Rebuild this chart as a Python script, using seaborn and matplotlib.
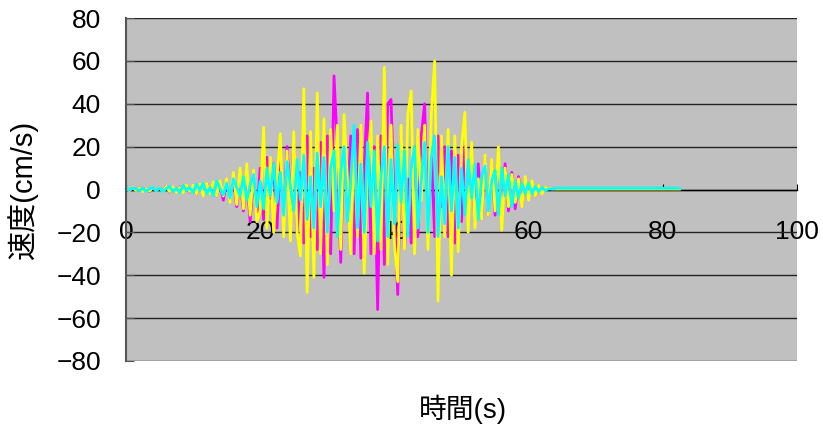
import numpy as np
import pandas as pd
import seaborn as sns
import matplotlib.pyplot as plt

# time axis, 0.5 s steps up to 63.5 s, then the quiet tail
t_main = np.arange(0, 64, 0.5)
t_tail = [64, 70, 76, 82.5]

# velocity records (cm/s)
mag = [0.3, -0.5, 0.5, -0.3, 0.8, -0.5, 0.5, -1, 0.8, -0.5,
       1, -0.8, 1.5, -1.2, 1, -1.5, 1.2, -1, 1.5, -1.2,
       1.5, -2, 2, -2.5, 3, -2, 2.5, -3, 3, -5,
       4, -5, 6, -8, 5, -10, 8, -15, 6, -12,
       10, -14, 15, -4, 12, -18, 16, -15, 20, -6,
       22, -20, 8, -25, 25, -22, 10, -28, 22, -41,
       25, -30, 53, 20, -34, 28, -8, 25, -30, 28,
       -32, 10, 45, -30, 20, -56, 25, -35, 40, 42,
       -10, -49, 25, -28, 5, -25, 20, -22, 25, 40,
       -20, 18, -22, 25, -8, 20, -22, 18, -25, 16,
       -15, 20, -5, 14, -15, 12, -14, 15, -12, 13,
       -12, 14, -13, 12, -10, 8, -9, 6, -7, 5,
       -4, 3, -3, 2, -1.5, 1, 0.5, 0.3]
yel = [0.5, -0.5, 1, -0.5, 0.8, -1, 0.5, -0.8, 1, -0.5,
       1, -1, 1.5, -1, 1.2, -1.5, 1, -1.5, 2, -1,
       2, -2, 2.5, -3, 3, -2, 3.5, -3, 4, -3,
       5, -6, 8, -7, 10, -9, 12, -12, 9, -15,
       -10, 29, -18, 15, -20, 5, 26, -22, 18, -24,
       27, -20, -31, 47, -48, 27, -41, 45, -30, 33,
       -35, 28, -10, 30, -28, 35, 5, -30, 25, -22,
       30, -39, 10, 32, -30, 25, -28, 57, -35, 30,
       -25, -43, 30, -28, 35, 46, -30, 28, -5, 30,
       -28, 35, 60, -52, 25, -22, 28, -40, 25, -29,
       20, 36, -20, 22, -18, 5, -14, 16, -12, 14,
       -10, 20, -19, 10, -8, 7, -6, 5, -8, 6,
       -5, 4, -3, 2, -2, 1, 0.5, 0.3]
cya = [0.5, -0.3, 0.8, 0.2, -0.5, 0.6, -0.8, 0.3, 1, -0.6,
       0.8, -1, 0.4, 1.5, -1, 0.5, -1.5, 2, -0.5, 1,
       -1.5, 2.5, -0.5, 3, -2, 1, -3, 4, 0.5, -2.5,
       3, -4, 5, 1, -3, 6, -5, 2, 7, -8,
       4, -9, 10, -3, 12, -6, 8, -12, 13, 2,
       -10, 14, -5, 16, -14, 6, -18, 17, -8, 15,
       -20, 10, 18, -22, 8, 20, -15, 5, 30, -18,
       12, -20, 22, -8, 18, -24, 6, 20, -22, 14,
       -16, 21, -6, 18, -22, 10, 20, -18, 4, 22,
       -20, 15, 25, -22, 6, -16, 20, -10, 15, -18,
       10, -12, 14, -4, 12, -14, 6, 11, -10, 4,
       9, -12, 10, -3, 7, -8, 4, -4, 3, -2,
       3, -2, 1.5, -1, 1, -0.5, 0.3, 0.2]
mag_tail = [0.4, 0.4, 0.4, 0.4]
yel_tail = [0.2, 0.2, 0.2, 0.2]
cya_tail = [0.6, 0.6, 0.6, 0.6]

t_all = list(t_main) + t_tail
d = pd.concat([
    pd.DataFrame({'t': t_all, 'v': mag + mag_tail, 'rec': 'M'}),
    pd.DataFrame({'t': t_all, 'v': yel + yel_tail, 'rec': 'Y'}),
    pd.DataFrame({'t': t_all, 'v': cya + cya_tail, 'rec': 'C'}),
])

plt.rcParams['font.family'] = ['Liberation Sans', 'Noto Sans CJK JP', 'DejaVu Sans']

fig = plt.figure(figsize=(8.23, 4.25), dpi=100)
ax = fig.add_axes([0.1531, 0.1506, 0.8153, 0.807])
ax.set_facecolor('#C0C0C0')

sns.lineplot(data=d, x='t', y='v', hue='rec', hue_order=['M', 'Y', 'C'],
             palette={'M': '#FF00FF', 'Y': '#FFFF00', 'C': '#00FFFF'},
             estimator=None, sort=False, linewidth=2, legend=False, ax=ax)

ax.set_xlim(0, 100)
ax.set_ylim(-80, 80)
ax.set_xticks(range(0, 101, 20))
ax.set_yticks(range(-80, 81, 20))
ax.set_axisbelow(True)
ax.yaxis.grid(True, color='#222222', linewidth=1)
ax.xaxis.grid(False)

for s in ['top', 'right']:
    ax.spines[s].set_visible(False)
ax.spines['bottom'].set_position(('data', 0))
ax.spines['bottom'].set_color('black')
ax.spines['bottom'].set_linewidth(1)
ax.spines['bottom'].set_zorder(1)
ax.spines['left'].set_color('#555555')
ax.spines['left'].set_linewidth(1.5)

ax.tick_params(axis='x', direction='in', length=4, pad=22, labelsize=19, color='black')
ax.tick_params(axis='y', direction='in', length=6, pad=18, labelsize=19, color='#555555')
ax.set_yticklabels(['\u221280', '\u221260', '\u221240', '\u221220', '0', '20', '40', '60', '80'])

ax.set_xlabel('時間(s)', fontsize=20, va='center')
ax.set_ylabel('速度(cm/s)', fontsize=21)
ax.xaxis.set_label_coords(0.502, -0.14)
ax.yaxis.set_label_coords(-0.131, 0.5)

plt.savefig('out.png', dpi=100)
